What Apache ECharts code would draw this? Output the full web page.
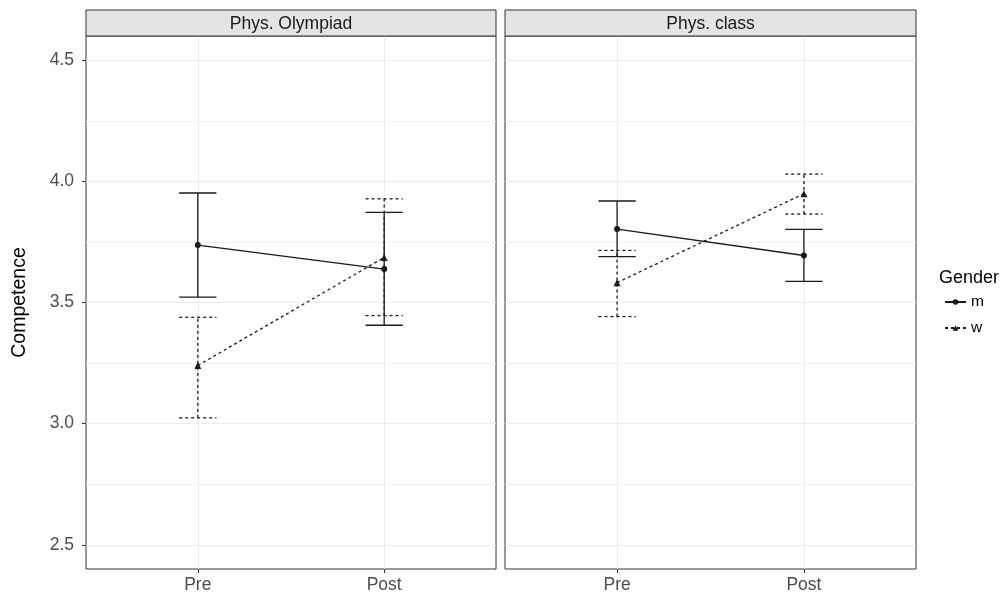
<!DOCTYPE html>
<html>
<head>
<meta charset="utf-8">
<script src="https://cdn.jsdelivr.net/npm/echarts@6/dist/echarts.min.js"></script>
<style>
  html, body { margin: 0; padding: 0; background: #fff; }
  #chart { width: 1006px; height: 594px; }
</style>
</head>
<body>
<div id="chart"></div>
<script>
const categories = ['Pre', 'Post']
const facets = ['Phys. Olympiad', 'Phys. class']
const genders = ['m', 'w']
const yTicks = [2.5, 3.0, 3.5, 4.0, 4.5]
const yMinor = [2.75, 3.25, 3.75, 4.25]

// Phys. Olympiad
const olyM = [3.737, 3.638]
const olyMLow = [3.522, 3.406]
const olyMHigh = [3.952, 3.872]
const olyW = [3.240, 3.686]
const olyWLow = [3.024, 3.446]
const olyWHigh = [3.439, 3.928]

// Phys. class
const clsM = [3.803, 3.694]
const clsMLow = [3.689, 3.587]
const clsMHigh = [3.919, 3.802]
const clsW = [3.582, 3.949]
const clsWLow = [3.442, 3.865]
const clsWHigh = [3.715, 4.030]

const font = "'Liberation Sans', Arial, sans-serif"
const ink = '#1a1a1a'
const capWidth = 0.2

// panel boxes (px)
const panels = [
  { left: 86, width: 410 },
  { left: 505, width: 411 }
]
const panelTop = 36
const panelBottom = 569
const stripTop = 10

function points (means) {
  return means.map((v, i) => [i + 1, v])
}
function bars (low, high) {
  return low.map((v, i) => [i + 1, v, high[i]])
}

function errorBar (dashed) {
  return function (params, api) {
    const x = api.value(0)
    const lo = api.coord([x, api.value(1)])
    const hi = api.coord([x, api.value(2)])
    const half = api.size([capWidth, 0])[0] / 2
    const style = { stroke: ink, lineWidth: 1.3, lineDash: dashed ? [3, 3] : null, fill: null }
    return {
      type: 'group',
      children: [
        { type: 'line', shape: { x1: lo[0], y1: lo[1], x2: hi[0], y2: hi[1] }, style: style },
        { type: 'line', shape: { x1: lo[0] - half, y1: lo[1], x2: lo[0] + half, y2: lo[1] }, style: style },
        { type: 'line', shape: { x1: hi[0] - half, y1: hi[1], x2: hi[0] + half, y2: hi[1] }, style: style }
      ]
    }
  }
}

const grids = panels.map(p => ({
  left: p.left,
  width: p.width,
  top: panelTop,
  height: panelBottom - panelTop,
  show: true,
  backgroundColor: '#fff',
  borderColor: '#333333',
  borderWidth: 1
}))

const xAxes = panels.map((p, i) => ({
  gridIndex: i,
  type: 'value',
  min: 0.4,
  max: 2.6,
  axisLine: { show: false },
  axisTick: { show: true, customValues: [1, 2], length: 4, lineStyle: { color: '#333333' } },
  axisLabel: {
    customValues: [1, 2],
    formatter: v => categories[Math.round(v) - 1],
    color: '#4d4d4d',
    fontSize: 17.5,
    fontFamily: font,
    margin: 7
  },
  splitLine: { show: true, lineStyle: { color: '#ebebeb', width: 1 } }
}))

const yAxes = []
panels.forEach((p, i) => {
  yAxes.push({
    gridIndex: i,
    type: 'value',
    min: 2.4,
    max: 4.6,
    name: i === 0 ? 'Competence' : '',
    nameLocation: 'middle',
    nameGap: 56,
    nameTextStyle: { color: '#000', fontSize: 19.5, fontFamily: font },
    axisLine: { show: false },
    axisTick: { show: i === 0, customValues: yTicks, length: 4, lineStyle: { color: '#333333' } },
    axisLabel: {
      show: i === 0,
      customValues: yTicks,
      formatter: v => v.toFixed(1),
      color: '#4d4d4d',
      fontSize: 17.5,
      fontFamily: font,
      margin: 12
    },
    splitLine: { show: true, lineStyle: { color: '#ebebeb', width: 1 } }
  })
  yAxes.push({
    gridIndex: i,
    type: 'value',
    min: 2.4,
    max: 4.6,
    axisLine: { show: false },
    axisTick: { show: false, customValues: yMinor },
    axisLabel: { show: false, customValues: yMinor },
    splitLine: { show: true, lineStyle: { color: '#f2f2f2', width: 1 } }
  })
})

const panelData = [
  { m: olyM, mLow: olyMLow, mHigh: olyMHigh, w: olyW, wLow: olyWLow, wHigh: olyWHigh },
  { m: clsM, mLow: clsMLow, mHigh: clsMHigh, w: clsW, wLow: clsWLow, wHigh: clsWHigh }
]

const series = []
panelData.forEach((d, i) => {
  series.push({
    type: 'custom',
    name: 'm-bar-' + i,
    xAxisIndex: i,
    yAxisIndex: i * 2,
    renderItem: errorBar(false),
    encode: { x: 0, y: [1, 2] },
    data: bars(d.mLow, d.mHigh),
    silent: true,
    z: 2
  })
  series.push({
    type: 'custom',
    name: 'w-bar-' + i,
    xAxisIndex: i,
    yAxisIndex: i * 2,
    renderItem: errorBar(true),
    encode: { x: 0, y: [1, 2] },
    data: bars(d.wLow, d.wHigh),
    silent: true,
    z: 2
  })
  series.push({
    type: 'line',
    name: 'm',
    xAxisIndex: i,
    yAxisIndex: i * 2,
    data: points(d.m),
    symbol: 'circle',
    symbolSize: 6,
    showAllSymbol: true,
    lineStyle: { color: ink, width: 1.3 },
    itemStyle: { color: ink },
    z: 3
  })
  series.push({
    type: 'line',
    name: 'w',
    xAxisIndex: i,
    yAxisIndex: i * 2,
    data: points(d.w),
    symbol: 'triangle',
    symbolSize: 7,
    showAllSymbol: true,
    lineStyle: { color: ink, width: 1.3, type: [3, 3] },
    itemStyle: { color: ink },
    z: 3
  })
})

const strips = []
panels.forEach((p, i) => {
  strips.push({
    type: 'rect',
    shape: { x: p.left, y: stripTop, width: p.width, height: panelTop - stripTop },
    style: { fill: '#e4e4e4', stroke: '#333333', lineWidth: 1 },
    z: 10
  })
  strips.push({
    type: 'text',
    x: p.left + p.width / 2,
    y: (stripTop + panelTop) / 2 + 1,
    style: {
      text: facets[i],
      fill: ink,
      font: '17.5px ' + font,
      align: 'center',
      verticalAlign: 'middle'
    },
    z: 11
  })
})
strips.push({
  type: 'text',
  x: 939,
  y: 278,
  style: { text: 'Gender', fill: '#000', font: '18px ' + font, verticalAlign: 'middle' }
})

const chart = echarts.init(document.getElementById('chart'))
chart.setOption({
  animation: false,
  backgroundColor: '#fff',
  grid: grids,
  xAxis: xAxes,
  yAxis: yAxes,
  legend: {
    data: genders,
    orient: 'vertical',
    left: 944,
    top: 294,
    padding: 0,
    itemWidth: 21,
    itemHeight: 7,
    itemGap: 10,
    selectedMode: false,
    textStyle: { color: '#000', fontSize: 15.5, fontFamily: font }
  },
  graphic: strips,
  series: series
})
</script>
</body>
</html>
